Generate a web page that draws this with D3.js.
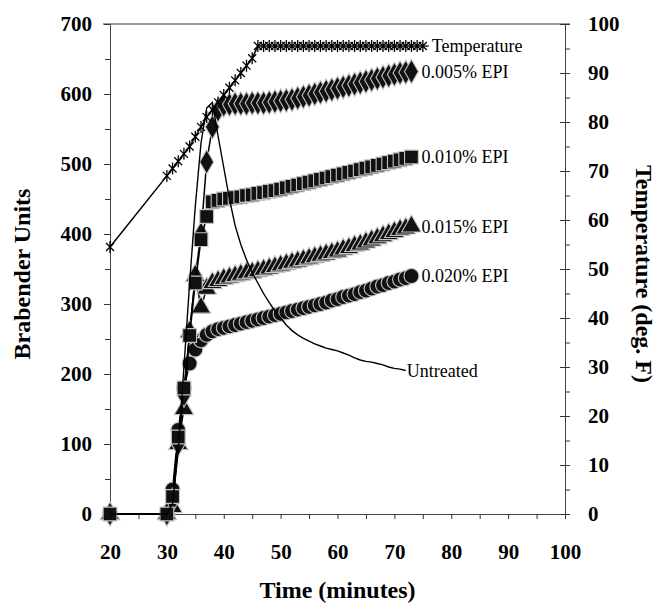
<!DOCTYPE html>
<html>
<head>
<meta charset="utf-8">
<script src="https://cdn.jsdelivr.net/npm/d3@7"></script>
<style>
  body { margin: 0; background: #fff; }
  svg { display: block; }
  text { font-family: "Liberation Serif", "Times New Roman", serif; }
</style>
</head>
<body>
<div id="chart"></div>
<script>
// time (minutes) of each reading
const epiTime = [20, 30, 31, 32, 33, 34, 35, 36, 37, 38, 39, 40, 41, 42, 43, 44, 45, 46, 47, 48, 49, 50,
  51, 52, 53, 54, 55, 56, 57, 58, 59, 60, 61, 62, 63, 64, 65, 66, 67, 68, 69, 70, 71, 72, 73];
const epi005 = [0, 0, 20, 100, 170, 260, 340, 400, 503, 553, 577, 584, 585, 586, 586, 586, 587, 587, 587, 588, 589, 590,
  591, 592, 594, 596, 598, 600, 602, 604, 606, 608, 610, 612, 614, 616, 618, 620, 622, 624, 626, 628, 630, 631, 632];
const epi010 = [0, 0, 25, 110, 180, 255, 330, 392, 425, 446, 448, 450, 451, 452, 453, 455, 456, 458, 459, 461, 462, 464,
  466, 468, 470, 472, 474, 476, 478, 480, 482, 484, 486, 488, 490, 492, 494, 496, 498, 500, 502, 504, 506, 508, 510];
const epi015 = [0, 0, 10, 100, 150, 260, 340, 295, 322, 330, 333, 336, 338, 340, 342, 344, 345, 347, 349, 351, 353, 355,
  357, 359, 361, 363, 365, 367, 369, 371, 373, 375, 378, 380, 383, 385, 388, 391, 394, 397, 400, 403, 406, 408, 411];
const epi020 = [0, 0, 35, 120, 180, 215, 235, 248, 256, 261, 264, 266, 268, 270, 272, 274, 276, 278, 280, 282, 284, 286,
  288, 290, 292, 294, 296, 298, 300, 302, 305, 307, 310, 312, 314, 317, 319, 322, 325, 327, 330, 332, 335, 337, 340];

const untreatedTime = [20, 30, 31, 32, 33, 34, 35, 36, 37, 38, 39, 40, 41, 42, 43, 44, 45, 46, 47, 48, 49, 50,
  51, 52, 53, 54, 55, 56, 57, 58, 59, 60, 61, 62, 63, 64, 65, 66, 67, 68, 69, 70, 71, 72];
const untreated = [0, 0, 15, 90, 210, 330, 440, 530, 580, 588, 540, 495, 450, 412, 385, 363, 345, 330, 315, 302, 290, 280,
  270, 262, 256, 251, 247, 243, 240, 237, 235, 233, 230, 227, 223, 220, 218, 217, 215, 213, 210, 208, 207, 205];

const tempTime = [20, 30, 31, 32, 33, 34, 35, 36, 37, 38, 39, 40, 41, 42, 43, 44, 45, 46, 47, 48, 49, 50,
  51, 52, 53, 54, 55, 56, 57, 58, 59, 60, 61, 62, 63, 64, 65, 66, 67, 68, 69, 70, 71, 72, 73, 74, 75];
const temperature = [54.5, 69, 70.5, 72, 73.5, 75, 77, 79, 81, 82.5, 84, 85.5, 87, 88.5, 90, 91.5, 93, 95.5, 95.5, 95.5, 95.5, 95.5,
  95.5, 95.5, 95.5, 95.5, 95.5, 95.5, 95.5, 95.5, 95.5, 95.5, 95.5, 95.5, 95.5, 95.5, 95.5, 95.5, 95.5, 95.5, 95.5, 95.5, 95.5, 95.5, 95.5, 95.5, 95.5];

const xTicks = [20, 30, 40, 50, 60, 70, 80, 90, 100];
const buTicks = [0, 100, 200, 300, 400, 500, 600, 700];
const tempTicks = [0, 10, 20, 30, 40, 50, 60, 70, 80, 90, 100];

const width = 665, height = 605;
const margin = { top: 24, right: 100, bottom: 91, left: 110 };

const svg = d3.select("#chart").append("svg")
  .attr("width", width).attr("height", height);

const x = d3.scaleLinear().domain([20, 100]).range([margin.left, width - margin.right]);
const y = d3.scaleLinear().domain([0, 700]).range([height - margin.bottom, margin.top]);
const yT = d3.scaleLinear().domain([0, 100]).range([height - margin.bottom, margin.top]);

const x0 = margin.left, x1 = width - margin.right;
const y0 = height - margin.bottom, y1 = margin.top;

// frame
svg.append("line").attr("x1", x0 - 7).attr("x2", x1 + 5).attr("y1", y1).attr("y2", y1)
  .attr("stroke", "#333").attr("stroke-width", 1);

// axes
const styleAxis = g => {
  g.select(".domain").attr("stroke", "#444");
  g.selectAll(".tick line").attr("stroke", "#333");
  g.selectAll("text").attr("font-size", 21).attr("font-weight", "bold")
    .attr("font-family", "'Liberation Serif', serif").attr("fill", "#000");
};

svg.append("g").attr("transform", `translate(${x0},0)`)
  .call(d3.axisLeft(y).tickValues([50, 150, 250, 350, 450, 550, 650]).tickSize(5).tickFormat("").tickSizeOuter(0))
  .call(styleAxis);
svg.append("g").attr("transform", `translate(${x0},0)`)
  .call(d3.axisLeft(y).tickValues(buTicks).tickSize(6).tickPadding(12).tickSizeOuter(0))
  .call(styleAxis);

svg.append("g").attr("transform", `translate(0,${y0})`)
  .call(d3.axisBottom(x).tickValues(d3.range(25, 100, 10)).tickSize(5).tickFormat("").tickSizeOuter(0))
  .call(styleAxis);
svg.append("g").attr("transform", `translate(0,${y0})`)
  .call(d3.axisBottom(x).tickValues(xTicks).tickSize(5).tickPadding(25).tickSizeOuter(0))
  .call(styleAxis);

svg.append("g").attr("transform", `translate(${x1},0)`)
  .call(d3.axisRight(yT).tickValues(d3.range(5, 100, 10)).tickSize(5).tickFormat("").tickSizeOuter(0))
  .call(styleAxis);
svg.append("g").attr("transform", `translate(${x1},0)`)
  .call(d3.axisLeft(yT).tickValues(tempTicks).tickSize(5).tickFormat("").tickSizeOuter(0))
  .call(styleAxis);
svg.append("g").attr("transform", `translate(${x1},0)`)
  .call(d3.axisRight(yT).tickValues(tempTicks).tickSize(5).tickPadding(18).tickSizeOuter(0))
  .call(styleAxis);

// axis titles
svg.append("text")
  .attr("transform", `translate(24,${(y0 + y1) / 2 + 5}) rotate(-90)`)
  .attr("text-anchor", "middle").attr("dominant-baseline", "middle")
  .attr("font-size", 24).attr("font-weight", "bold")
  .text("Brabender Units");
svg.append("text")
  .attr("transform", `translate(641,${(y0 + y1) / 2 + 5}) rotate(90)`)
  .attr("text-anchor", "middle").attr("dominant-baseline", "middle")
  .attr("font-size", 24).attr("font-weight", "bold")
  .text("Temperature (deg. F)");
svg.append("text")
  .attr("x", (x0 + x1) / 2).attr("y", 598)
  .attr("text-anchor", "middle")
  .attr("font-size", 24).attr("font-weight", "bold")
  .text("Time (minutes)");

// series (drawn back to front; squares end up on top like the original)
const line = d3.line().x(d => x(d[0])).y(d => y(d[1]));

const series = [
  { name: "0.020% EPI", values: epi020, symbol: d3.symbolCircle, size: 175 },
  { name: "0.015% EPI", values: epi015, symbol: d3.symbolTriangle, size: 165 },
  { name: "0.005% EPI", values: epi005, symbol: d3.symbolDiamond, size: 170 },
  { name: "0.010% EPI", values: epi010, symbol: d3.symbolSquare, size: 190 }
];

series.forEach(s => {
  const pts = epiTime.map((t, i) => [t, s.values[i]]);
  svg.append("path").datum(pts)
    .attr("fill", "none").attr("stroke", "#000").attr("stroke-width", 1.5)
    .attr("d", line);
  svg.append("g").selectAll("path")
    .data(pts)
    .join("path")
    .attr("transform", d => `translate(${x(d[0])},${y(d[1])})`)
    .attr("d", d3.symbol().type(s.symbol).size(s.size))
    .attr("fill", "#111")
    .attr("stroke", "#c4c4c4")
    .attr("stroke-width", 1.1);
});

// untreated (line only)
const untreatedPts = untreatedTime.map((t, i) => [t, untreated[i]]);
svg.append("path").datum(untreatedPts)
  .attr("fill", "none").attr("stroke", "#000").attr("stroke-width", 1.4)
  .attr("d", line);

// temperature (right axis)
const tempPts = tempTime.map((t, i) => [t, temperature[i]]);
svg.append("path").datum(tempPts)
  .attr("fill", "none").attr("stroke", "#000").attr("stroke-width", 1.5)
  .attr("d", d3.line().x(d => x(d[0])).y(d => yT(d[1])));
svg.append("g").selectAll("path")
  .data(tempPts)
  .join("path")
  .attr("transform", d => `translate(${x(d[0])},${yT(d[1])})`)
  .attr("d", "M0,-6V6M-4,-4L4,4M-4,4L4,-4")
  .attr("fill", "none").attr("stroke", "#000").attr("stroke-width", 1.3);

// labels on the curves
const lastT = tempPts[tempPts.length - 1];
svg.append("line")
  .attr("x1", x(lastT[0])).attr("x2", x(lastT[0]) + 6)
  .attr("y1", yT(lastT[1])).attr("y2", yT(lastT[1]))
  .attr("stroke", "#000").attr("stroke-width", 1.3);
svg.append("text").attr("x", x(lastT[0]) + 9).attr("y", yT(lastT[1]))
  .attr("dy", "0.35em").attr("font-size", 18).text("Temperature");

series.forEach(s => {
  const t = epiTime[epiTime.length - 1], v = s.values[s.values.length - 1];
  svg.append("text").attr("x", x(t) + 10).attr("y", y(v))
    .attr("dy", "0.35em").attr("font-size", 18).text(s.name);
});

const lastU = untreatedPts[untreatedPts.length - 1];
svg.append("text").attr("x", x(lastU[0]) + 1).attr("y", y(lastU[1]))
  .attr("dy", "0.35em").attr("font-size", 18).text("Untreated");
</script>
</body>
</html>
